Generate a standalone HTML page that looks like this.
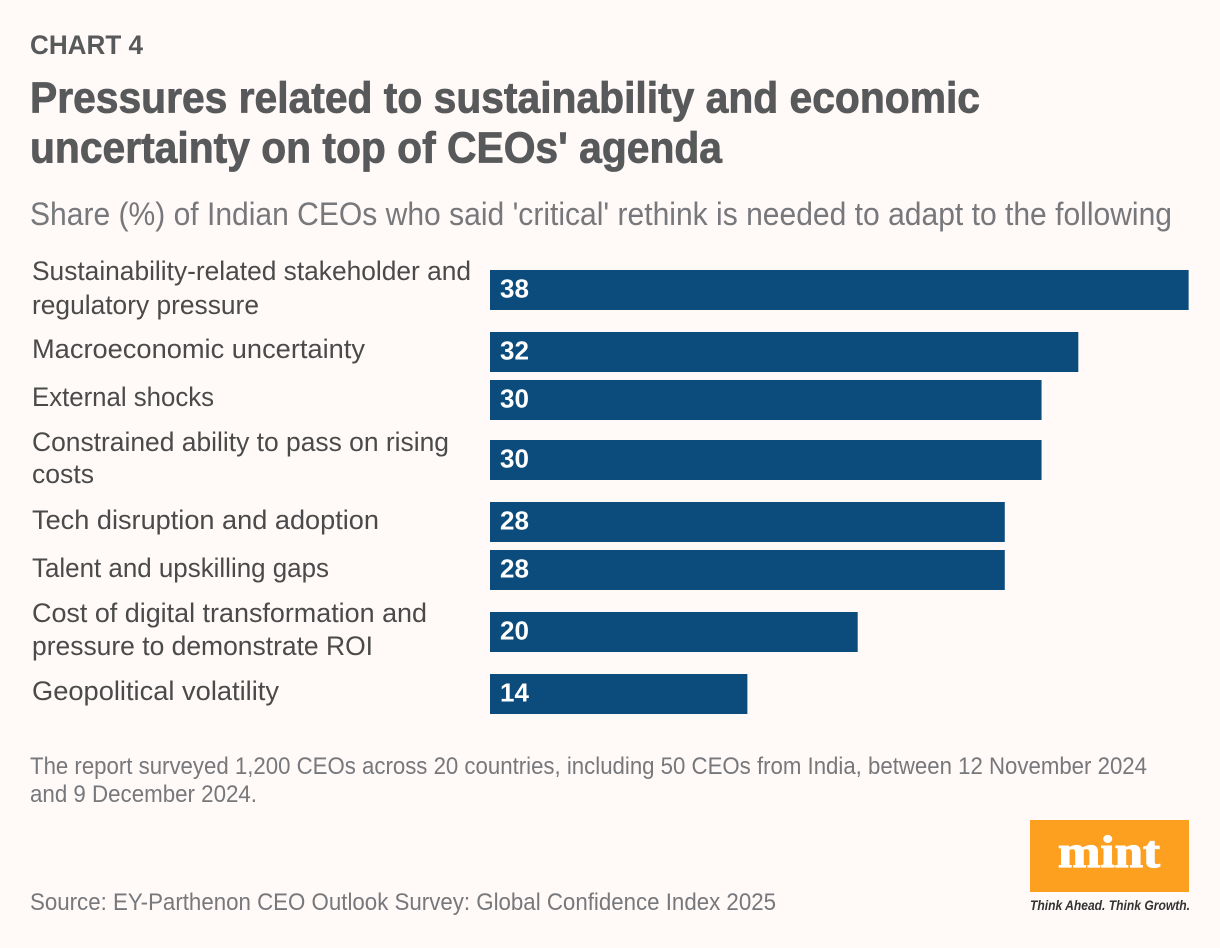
<!DOCTYPE html>
<html lang="en">
<head>
<meta charset="utf-8">
<title>Chart 4</title>
<style>
html,body{margin:0;padding:0;background:#fff9f8;}
svg{display:block;font-family:"Liberation Sans",sans-serif;}
</style>
</head>
<body>
<svg id="chart" width="1220" height="948" viewBox="0 0 1220 948" xmlns="http://www.w3.org/2000/svg">
<rect width="1220" height="948" fill="#fff9f8"/>
<text x="30" y="54" font-size="27" font-weight="700" fill="#58595b" textLength="113" lengthAdjust="spacingAndGlyphs">CHART 4</text>
<text x="30" y="112.5" font-size="44" font-weight="700" fill="#58595b" stroke="#58595b" stroke-width="0.8" textLength="950" lengthAdjust="spacingAndGlyphs">Pressures related to sustainability and economic</text>
<text x="30" y="162.5" font-size="44" font-weight="700" fill="#58595b" stroke="#58595b" stroke-width="0.8" textLength="692" lengthAdjust="spacingAndGlyphs">uncertainty on top of CEOs' agenda</text>
<text x="30" y="225" font-size="32" fill="#77787b" textLength="1142" lengthAdjust="spacingAndGlyphs">Share (%) of Indian CEOs who said 'critical' rethink is needed to adapt to the following</text>
<g id="bars"></g>
<text x="30" y="774" font-size="24" fill="#77787b" textLength="1117" lengthAdjust="spacingAndGlyphs">The report surveyed 1,200 CEOs across 20 countries, including 50 CEOs from India, between 12 November 2024</text>
<text x="30" y="802" font-size="24" fill="#77787b" textLength="227" lengthAdjust="spacingAndGlyphs">and 9 December 2024.</text>
<text x="30" y="910" font-size="24" fill="#77787b" textLength="746" lengthAdjust="spacingAndGlyphs">Source: EY-Parthenon CEO Outlook Survey: Global Confidence Index 2025</text>
<g>
<rect x="1030" y="820" width="159" height="72" fill="#fd9f1f"/>
<text x="1109" y="867" font-family="'Liberation Serif',serif" font-size="46" font-weight="700" fill="#ffffff" text-anchor="middle" stroke="#ffffff" stroke-width="1.2" textLength="102" lengthAdjust="spacingAndGlyphs">mint</text>
<text x="1030" y="910" font-size="14" font-weight="700" font-style="italic" fill="#333333" textLength="160" lengthAdjust="spacingAndGlyphs">Think Ahead. Think Growth.</text>
</g>
</svg>
<script>
const categories = [
  ["Sustainability-related stakeholder and", "regulatory pressure"],
  ["Macroeconomic uncertainty"],
  ["External shocks"],
  ["Constrained ability to pass on rising", "costs"],
  ["Tech disruption and adoption"],
  ["Talent and upskilling gaps"],
  ["Cost of digital transformation and", "pressure to demonstrate ROI"],
  ["Geopolitical volatility"]
];
const shares = [38, 32, 30, 30, 28, 28, 20, 14];

const NS = "http://www.w3.org/2000/svg";
const group = document.getElementById("bars");
const axisLeft = 490;
const unitWidth = 18.385;
const barHeight = 40;
/* Typesetting only: rendered width and baseline nudge for each label line. */
const labelFit = {
  "Sustainability-related stakeholder and": { width: 439, nudge: 0 },
  "regulatory pressure": { width: 227, nudge: 1 },
  "Macroeconomic uncertainty": { width: 333, nudge: 0 },
  "External shocks": { width: 182, nudge: 0 },
  "Constrained ability to pass on rising": { width: 417, nudge: 1 },
  "costs": { width: 62, nudge: 0 },
  "Tech disruption and adoption": { width: 347, nudge: 1 },
  "Talent and upskilling gaps": { width: 297, nudge: 1 },
  "Cost of digital transformation and": { width: 395, nudge: 0 },
  "pressure to demonstrate ROI": { width: 341, nudge: 0 },
  "Geopolitical volatility": { width: 247, nudge: 0 }
};
function xScale(v) { return v * unitWidth; }
function pitch(i) {
  if (i === 0) return 0;
  const prevDouble = categories[i - 1].length > 1;
  const thisDouble = categories[i].length > 1;
  if (prevDouble) return 62;
  if (thisDouble) return i > 4 ? 62 : 60;
  return 48;
}
let barTop = 270;
shares.forEach(function (value, i) {
  barTop += pitch(i);
  const bar = document.createElementNS(NS, "rect");
  
  
  bar.setAttribute("x", axisLeft);
  bar.setAttribute("y", barTop);
  bar.setAttribute("width", xScale(value));
  bar.setAttribute("height", barHeight);
  bar.setAttribute("fill", "#0b4c7c");
  group.appendChild(bar);

  const val = document.createElementNS(NS, "text");
  
  
  val.setAttribute("x", axisLeft + 10);
  val.setAttribute("y", barTop + 27.5);
  val.setAttribute("font-size", "26");
  val.setAttribute("font-weight", "700");
  val.setAttribute("fill", "#ffffff");
  val.textContent = value;
  group.appendChild(val);

  const lines = categories[i];
  lines.forEach(function (line, j) {
    const fit = labelFit[line];
    const label = document.createElementNS(NS, "text");
    
    
    label.setAttribute("x", 32);
    label.setAttribute("y", barTop + (lines.length > 1 ? 10 + j * 33 : 26) + fit.nudge);
    label.setAttribute("font-size", "27");
    label.setAttribute("textLength", fit.width);
    label.setAttribute("lengthAdjust", "spacingAndGlyphs");
    label.setAttribute("fill", "#4a4a4a");
    label.textContent = line;
    group.appendChild(label);
  });
});
</script>
</body>
</html>
